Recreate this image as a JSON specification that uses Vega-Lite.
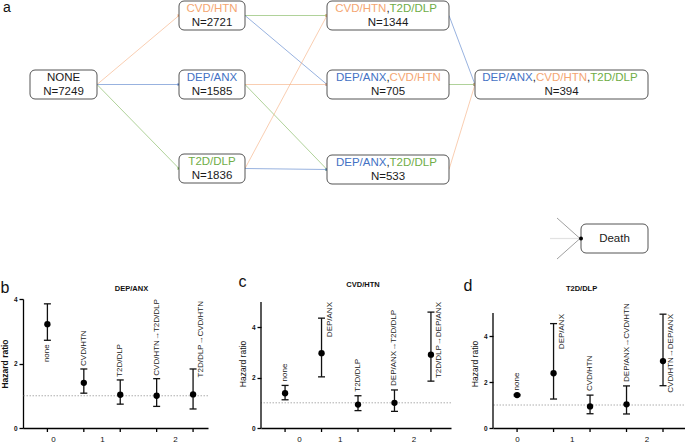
{
  "$schema": "https://vega.github.io/schema/vega-lite/v6.json",
  "padding": 0,
  "autosize": {"type": "pad"},
  "config": {"font": "Liberation Sans", "view": {"stroke": null}, "axisX": {"labelOverlap": false}},
  "datasets": {
    "nodes": [
      {"id": "NONE", "x0": 29, "x1": 96, "y0": 70, "y1": 99, "xc": 62.5, "yc": 84.5},
      {"id": "CVDHTN", "x0": 178, "x1": 244, "y0": 1, "y1": 30, "xc": 211, "yc": 15.5},
      {"id": "DEPANX", "x0": 178, "x1": 244, "y0": 70, "y1": 99, "xc": 211, "yc": 84.5},
      {"id": "T2DDLP", "x0": 178, "x1": 244, "y0": 154, "y1": 183, "xc": 211, "yc": 168.5},
      {"id": "CVD_T2D", "x0": 326, "x1": 448, "y0": 1, "y1": 30, "xc": 387, "yc": 15.5},
      {"id": "DEP_CVD", "x0": 326, "x1": 448, "y0": 70, "y1": 99, "xc": 387, "yc": 84.5},
      {"id": "DEP_T2D", "x0": 326, "x1": 448, "y0": 155, "y1": 184, "xc": 387, "yc": 169.5},
      {"id": "ALL", "x0": 474, "x1": 647, "y0": 70, "y1": 99, "xc": 560.5, "yc": 84.5},
      {"id": "DEATH", "x0": 580, "x1": 647, "y0": 224, "y1": 253, "xc": 613.5, "yc": 238.5}
    ],
    "texts": [
      {"node": "NONE", "part": "solo", "text": "NONE", "cat": "black"},
      {"node": "NONE", "part": "n", "text": "N=7249", "cat": "black"},
      {"node": "CVDHTN", "part": "solo", "text": "CVD/HTN", "cat": "CVD/HTN"},
      {"node": "CVDHTN", "part": "n", "text": "N=2721", "cat": "black"},
      {"node": "DEPANX", "part": "solo", "text": "DEP/ANX", "cat": "DEP/ANX"},
      {"node": "DEPANX", "part": "n", "text": "N=1585", "cat": "black"},
      {"node": "T2DDLP", "part": "solo", "text": "T2D/DLP", "cat": "T2D/DLP"},
      {"node": "T2DDLP", "part": "n", "text": "N=1836", "cat": "black"},
      {"node": "CVD_T2D", "part": "l2", "text": "CVD/HTN", "cat": "CVD/HTN"},
      {"node": "CVD_T2D", "part": "c2", "text": ",", "cat": "black"},
      {"node": "CVD_T2D", "part": "r2", "text": "T2D/DLP", "cat": "T2D/DLP"},
      {"node": "CVD_T2D", "part": "n", "text": "N=1344", "cat": "black"},
      {"node": "DEP_CVD", "part": "l2", "text": "DEP/ANX", "cat": "DEP/ANX"},
      {"node": "DEP_CVD", "part": "c2", "text": ",", "cat": "black"},
      {"node": "DEP_CVD", "part": "r2", "text": "CVD/HTN", "cat": "CVD/HTN"},
      {"node": "DEP_CVD", "part": "n", "text": "N=705", "cat": "black"},
      {"node": "DEP_T2D", "part": "l2", "text": "DEP/ANX", "cat": "DEP/ANX"},
      {"node": "DEP_T2D", "part": "c2", "text": ",", "cat": "black"},
      {"node": "DEP_T2D", "part": "r2", "text": "T2D/DLP", "cat": "T2D/DLP"},
      {"node": "DEP_T2D", "part": "n", "text": "N=533", "cat": "black"},
      {"node": "ALL", "part": "l3", "text": "DEP/ANX", "cat": "DEP/ANX"},
      {"node": "ALL", "part": "c3a", "text": ",", "cat": "black"},
      {"node": "ALL", "part": "m3", "text": "CVD/HTN", "cat": "CVD/HTN"},
      {"node": "ALL", "part": "c3b", "text": ",", "cat": "black"},
      {"node": "ALL", "part": "r3", "text": "T2D/DLP", "cat": "T2D/DLP"},
      {"node": "ALL", "part": "n", "text": "N=394", "cat": "black"},
      {"node": "DEATH", "part": "death", "text": "Death", "cat": "black"}
    ],
    "edges": [
      {"from": "NONE", "to": "CVDHTN", "cat": "CVD/HTN"},
      {"from": "NONE", "to": "DEPANX", "cat": "DEP/ANX"},
      {"from": "NONE", "to": "T2DDLP", "cat": "T2D/DLP"},
      {"from": "CVDHTN", "to": "CVD_T2D", "cat": "T2D/DLP"},
      {"from": "CVDHTN", "to": "DEP_CVD", "cat": "DEP/ANX"},
      {"from": "DEPANX", "to": "DEP_CVD", "cat": "CVD/HTN"},
      {"from": "DEPANX", "to": "DEP_T2D", "cat": "T2D/DLP"},
      {"from": "T2DDLP", "to": "CVD_T2D", "cat": "CVD/HTN"},
      {"from": "T2DDLP", "to": "DEP_T2D", "cat": "DEP/ANX"},
      {"from": "CVD_T2D", "to": "ALL", "cat": "DEP/ANX"},
      {"from": "DEP_CVD", "to": "ALL", "cat": "T2D/DLP"},
      {"from": "DEP_T2D", "to": "ALL", "cat": "CVD/HTN"}
    ],
    "stubs": [
      {"kind": "diag", "x": 556, "y": 218, "x2": 579, "y2": 238.5},
      {"kind": "diag", "x": 556, "y": 259, "x2": 579, "y2": 238.5},
      {"kind": "flat", "x": 549, "y": 238.5, "x2": 579, "y2": 238.5}
    ],
    "forest": [
      {"panel": "b", "pos": 1, "label": "none", "hr": 3.22, "lo": 2.72, "hi": 3.85},
      {"panel": "b", "pos": 2, "label": "CVD/HTN", "hr": 1.4, "lo": 1.08, "hi": 1.83},
      {"panel": "b", "pos": 3, "label": "T2D/DLP", "hr": 1.03, "lo": 0.74, "hi": 1.49},
      {"panel": "b", "pos": 4, "label": "CVD/HTN→T2D/DLP", "hr": 1.0, "lo": 0.67, "hi": 1.53},
      {"panel": "b", "pos": 5, "label": "T2D/DLP→CVD/HTN", "hr": 1.04, "lo": 0.59, "hi": 1.83},
      {"panel": "c", "pos": 1, "label": "none", "hr": 1.38, "lo": 1.12, "hi": 1.69},
      {"panel": "c", "pos": 2, "label": "DEP/ANX", "hr": 2.97, "lo": 2.03, "hi": 4.36},
      {"panel": "c", "pos": 3, "label": "T2D/DLP", "hr": 0.93, "lo": 0.69, "hi": 1.28},
      {"panel": "c", "pos": 4, "label": "DEP/ANX→T2D/DLP", "hr": 1.0, "lo": 0.66, "hi": 1.51},
      {"panel": "c", "pos": 5, "label": "T2D/DLP→DEP/ANX", "hr": 2.91, "lo": 1.86, "hi": 4.6},
      {"panel": "d", "pos": 1, "label": "none", "hr": 1.43, "lo": 1.4, "hi": 1.46},
      {"panel": "d", "pos": 2, "label": "DEP/ANX", "hr": 2.38, "lo": 1.26, "hi": 4.54},
      {"panel": "d", "pos": 3, "label": "CVD/HTN", "hr": 0.94, "lo": 0.62, "hi": 1.43},
      {"panel": "d", "pos": 4, "label": "DEP/ANX→CVD/HTN", "hr": 1.03, "lo": 0.61, "hi": 1.83},
      {"panel": "d", "pos": 5, "label": "CVD/HTN→DEP/ANX", "hr": 2.91, "lo": 1.84, "hi": 4.95}
    ]
  },
  "columns": 1,
  "align": "none",
  "spacing": 14,
  "concat": [
    {
      "width": 663,
      "height": 260,
      "title": {"text": "a", "anchor": "start", "frame": "group", "fontSize": 14, "fontWeight": "normal", "baseline": "top", "offset": -14.5, "dx": -20, "color": "#111"},
      "layer": [
        {
          "data": {"name": "edges"},
          "transform": [
            {"lookup": "from", "from": {"data": {"name": "nodes"}, "key": "id", "fields": ["x1", "yc"]}, "as": ["sx", "sy"]},
            {"lookup": "to", "from": {"data": {"name": "nodes"}, "key": "id", "fields": ["x0", "yc"]}, "as": ["tx", "ty"]}
          ],
          "mark": {"type": "rule", "strokeWidth": 1, "strokeOpacity": 0.55},
          "encoding": {
            "x": {"field": "sx", "type": "quantitative", "scale": {"domain": [22, 685], "nice": false, "zero": false}, "axis": null},
            "y": {"field": "sy", "type": "quantitative", "scale": {"domain": [0, 260], "nice": false, "zero": false, "reverse": true}, "axis": null},
            "x2": {"field": "tx"},
            "y2": {"field": "ty"},
            "color": {"field": "cat", "type": "nominal", "scale": {"domain": ["DEP/ANX", "CVD/HTN", "T2D/DLP", "black"], "range": ["#4472C4", "#F4A672", "#70AD47", "#1a1a1a"]}, "legend": null}
          }
        },
        {
          "data": {"name": "edges"},
          "transform": [
            {"lookup": "to", "from": {"data": {"name": "nodes"}, "key": "id", "fields": ["x0", "yc"]}, "as": ["tx", "ty"]}
          ],
          "mark": {"type": "point", "shape": "triangle-right", "filled": true, "size": 10, "opacity": 1},
          "encoding": {
            "x": {"field": "tx", "type": "quantitative", "scale": {"domain": [22, 685], "nice": false, "zero": false}, "axis": null},
            "y": {"field": "ty", "type": "quantitative", "scale": {"domain": [0, 260], "nice": false, "zero": false, "reverse": true}, "axis": null},
            "color": {"field": "cat", "type": "nominal", "legend": null}
          }
        },
        {
          "data": {"name": "stubs"},
          "transform": [{"filter": "datum.kind == 'diag'"}],
          "mark": {"type": "rule", "strokeWidth": 0.8, "color": "#888"},
          "encoding": {
            "x": {"field": "x", "type": "quantitative", "scale": {"domain": [22, 685], "nice": false, "zero": false}, "axis": null},
            "y": {"field": "y", "type": "quantitative", "scale": {"domain": [0, 260], "nice": false, "zero": false, "reverse": true}, "axis": null},
            "x2": {"field": "x2"},
            "y2": {"field": "y2"}
          }
        },
        {
          "data": {"name": "stubs"},
          "transform": [{"filter": "datum.kind == 'flat'"}],
          "mark": {"type": "rule", "strokeWidth": 1.2, "color": "#e2e2e2"},
          "encoding": {
            "x": {"field": "x", "type": "quantitative", "scale": {"domain": [22, 685], "nice": false, "zero": false}, "axis": null},
            "y": {"field": "y", "type": "quantitative", "scale": {"domain": [0, 260], "nice": false, "zero": false, "reverse": true}, "axis": null},
            "x2": {"field": "x2"},
            "y2": {"field": "y2"}
          }
        },
        {
          "data": {"name": "nodes"},
          "mark": {"type": "rect", "fill": "white", "stroke": "#555", "strokeWidth": 1, "cornerRadius": 5},
          "encoding": {
            "x": {"field": "x0", "type": "quantitative", "scale": {"domain": [22, 685], "nice": false, "zero": false}, "axis": null},
            "x2": {"field": "x1"},
            "y": {"field": "y0", "type": "quantitative", "scale": {"domain": [0, 260], "nice": false, "zero": false, "reverse": true}, "axis": null},
            "y2": {"field": "y1"}
          }
        },
        {
          "data": {"name": "nodes"},
          "transform": [{"filter": "datum.id == 'DEATH'"}],
          "mark": {"type": "point", "shape": "circle", "filled": true, "size": 16, "color": "#000", "opacity": 1},
          "encoding": {
            "x": {"field": "x0", "type": "quantitative", "scale": {"domain": [22, 685], "nice": false, "zero": false}, "axis": null},
            "y": {"field": "yc", "type": "quantitative", "scale": {"domain": [0, 260], "nice": false, "zero": false, "reverse": true}, "axis": null}
          }
        },
        {
          "data": {"name": "texts"},
          "transform": [
            {"lookup": "node", "from": {"data": {"name": "nodes"}, "key": "id", "fields": ["xc", "yc"]}},
            {"filter": "datum.part == 'solo'"}
          ],
          "mark": {"type": "text", "fontSize": 11.5, "align": "center", "baseline": "middle", "dy": -7},
          "encoding": {
            "x": {"field": "xc", "type": "quantitative", "scale": {"domain": [22, 685], "nice": false, "zero": false}, "axis": null},
            "y": {"field": "yc", "type": "quantitative", "scale": {"domain": [0, 260], "nice": false, "zero": false, "reverse": true}, "axis": null},
            "text": {"field": "text"},
            "color": {"field": "cat", "type": "nominal", "legend": null}
          }
        },
        {
          "data": {"name": "texts"},
          "transform": [
            {"lookup": "node", "from": {"data": {"name": "nodes"}, "key": "id", "fields": ["xc", "yc"]}},
            {"filter": "datum.part == 'n'"}
          ],
          "mark": {"type": "text", "fontSize": 11.5, "align": "center", "baseline": "middle", "dy": 7},
          "encoding": {
            "x": {"field": "xc", "type": "quantitative", "scale": {"domain": [22, 685], "nice": false, "zero": false}, "axis": null},
            "y": {"field": "yc", "type": "quantitative", "scale": {"domain": [0, 260], "nice": false, "zero": false, "reverse": true}, "axis": null},
            "text": {"field": "text"},
            "color": {"field": "cat", "type": "nominal", "legend": null}
          }
        },
        {
          "data": {"name": "texts"},
          "transform": [
            {"lookup": "node", "from": {"data": {"name": "nodes"}, "key": "id", "fields": ["xc", "yc"]}},
            {"filter": "datum.part == 'death'"}
          ],
          "mark": {"type": "text", "fontSize": 11.5, "align": "center", "baseline": "middle", "dy": 0},
          "encoding": {
            "x": {"field": "xc", "type": "quantitative", "scale": {"domain": [22, 685], "nice": false, "zero": false}, "axis": null},
            "y": {"field": "yc", "type": "quantitative", "scale": {"domain": [0, 260], "nice": false, "zero": false, "reverse": true}, "axis": null},
            "text": {"field": "text"},
            "color": {"field": "cat", "type": "nominal", "legend": null}
          }
        },
        {
          "data": {"name": "texts"},
          "transform": [
            {"lookup": "node", "from": {"data": {"name": "nodes"}, "key": "id", "fields": ["xc", "yc"]}},
            {"filter": "datum.part == 'l2'"}
          ],
          "mark": {"type": "text", "fontSize": 11.5, "align": "right", "baseline": "middle", "dy": -7, "dx": -1.6},
          "encoding": {
            "x": {"field": "xc", "type": "quantitative", "scale": {"domain": [22, 685], "nice": false, "zero": false}, "axis": null},
            "y": {"field": "yc", "type": "quantitative", "scale": {"domain": [0, 260], "nice": false, "zero": false, "reverse": true}, "axis": null},
            "text": {"field": "text"},
            "color": {"field": "cat", "type": "nominal", "legend": null}
          }
        },
        {
          "data": {"name": "texts"},
          "transform": [
            {"lookup": "node", "from": {"data": {"name": "nodes"}, "key": "id", "fields": ["xc", "yc"]}},
            {"filter": "datum.part == 'c2'"}
          ],
          "mark": {"type": "text", "fontSize": 11.5, "align": "center", "baseline": "middle", "dy": -7},
          "encoding": {
            "x": {"field": "xc", "type": "quantitative", "scale": {"domain": [22, 685], "nice": false, "zero": false}, "axis": null},
            "y": {"field": "yc", "type": "quantitative", "scale": {"domain": [0, 260], "nice": false, "zero": false, "reverse": true}, "axis": null},
            "text": {"field": "text"},
            "color": {"field": "cat", "type": "nominal", "legend": null}
          }
        },
        {
          "data": {"name": "texts"},
          "transform": [
            {"lookup": "node", "from": {"data": {"name": "nodes"}, "key": "id", "fields": ["xc", "yc"]}},
            {"filter": "datum.part == 'r2'"}
          ],
          "mark": {"type": "text", "fontSize": 11.5, "align": "left", "baseline": "middle", "dy": -7, "dx": 1.6},
          "encoding": {
            "x": {"field": "xc", "type": "quantitative", "scale": {"domain": [22, 685], "nice": false, "zero": false}, "axis": null},
            "y": {"field": "yc", "type": "quantitative", "scale": {"domain": [0, 260], "nice": false, "zero": false, "reverse": true}, "axis": null},
            "text": {"field": "text"},
            "color": {"field": "cat", "type": "nominal", "legend": null}
          }
        },
        {
          "data": {"name": "texts"},
          "transform": [
            {"lookup": "node", "from": {"data": {"name": "nodes"}, "key": "id", "fields": ["xc", "yc"]}},
            {"filter": "datum.part == 'l3'"}
          ],
          "mark": {"type": "text", "fontSize": 11.5, "align": "right", "baseline": "middle", "dy": -7, "dx": -28.8},
          "encoding": {
            "x": {"field": "xc", "type": "quantitative", "scale": {"domain": [22, 685], "nice": false, "zero": false}, "axis": null},
            "y": {"field": "yc", "type": "quantitative", "scale": {"domain": [0, 260], "nice": false, "zero": false, "reverse": true}, "axis": null},
            "text": {"field": "text"},
            "color": {"field": "cat", "type": "nominal", "legend": null}
          }
        },
        {
          "data": {"name": "texts"},
          "transform": [
            {"lookup": "node", "from": {"data": {"name": "nodes"}, "key": "id", "fields": ["xc", "yc"]}},
            {"filter": "datum.part == 'c3a'"}
          ],
          "mark": {"type": "text", "fontSize": 11.5, "align": "center", "baseline": "middle", "dy": -7, "dx": -27.2},
          "encoding": {
            "x": {"field": "xc", "type": "quantitative", "scale": {"domain": [22, 685], "nice": false, "zero": false}, "axis": null},
            "y": {"field": "yc", "type": "quantitative", "scale": {"domain": [0, 260], "nice": false, "zero": false, "reverse": true}, "axis": null},
            "text": {"field": "text"},
            "color": {"field": "cat", "type": "nominal", "legend": null}
          }
        },
        {
          "data": {"name": "texts"},
          "transform": [
            {"lookup": "node", "from": {"data": {"name": "nodes"}, "key": "id", "fields": ["xc", "yc"]}},
            {"filter": "datum.part == 'm3'"}
          ],
          "mark": {"type": "text", "fontSize": 11.5, "align": "center", "baseline": "middle", "dy": -7},
          "encoding": {
            "x": {"field": "xc", "type": "quantitative", "scale": {"domain": [22, 685], "nice": false, "zero": false}, "axis": null},
            "y": {"field": "yc", "type": "quantitative", "scale": {"domain": [0, 260], "nice": false, "zero": false, "reverse": true}, "axis": null},
            "text": {"field": "text"},
            "color": {"field": "cat", "type": "nominal", "legend": null}
          }
        },
        {
          "data": {"name": "texts"},
          "transform": [
            {"lookup": "node", "from": {"data": {"name": "nodes"}, "key": "id", "fields": ["xc", "yc"]}},
            {"filter": "datum.part == 'c3b'"}
          ],
          "mark": {"type": "text", "fontSize": 11.5, "align": "center", "baseline": "middle", "dy": -7, "dx": 27.2},
          "encoding": {
            "x": {"field": "xc", "type": "quantitative", "scale": {"domain": [22, 685], "nice": false, "zero": false}, "axis": null},
            "y": {"field": "yc", "type": "quantitative", "scale": {"domain": [0, 260], "nice": false, "zero": false, "reverse": true}, "axis": null},
            "text": {"field": "text"},
            "color": {"field": "cat", "type": "nominal", "legend": null}
          }
        },
        {
          "data": {"name": "texts"},
          "transform": [
            {"lookup": "node", "from": {"data": {"name": "nodes"}, "key": "id", "fields": ["xc", "yc"]}},
            {"filter": "datum.part == 'r3'"}
          ],
          "mark": {"type": "text", "fontSize": 11.5, "align": "left", "baseline": "middle", "dy": -7, "dx": 28.8},
          "encoding": {
            "x": {"field": "xc", "type": "quantitative", "scale": {"domain": [22, 685], "nice": false, "zero": false}, "axis": null},
            "y": {"field": "yc", "type": "quantitative", "scale": {"domain": [0, 260], "nice": false, "zero": false, "reverse": true}, "axis": null},
            "text": {"field": "text"},
            "color": {"field": "cat", "type": "nominal", "legend": null}
          }
        }
      ]
    },
    {
      "columns": 2,
      "align": "none",
      "spacing": 29,
      "concat": [
        {
          "title": {"text": "b", "anchor": "start", "frame": "bounds", "fontSize": 16, "fontWeight": "normal", "baseline": "top", "offset": -10.5, "color": "#111"},
          "vconcat": [
            {
              "width": 185,
              "height": 129,
              "title": {"text": "DEP/ANX", "anchor": "middle", "frame": "group", "fontSize": 7.5, "fontWeight": "bold", "baseline": "top", "offset": 3.5, "dx": 16, "color": "#111"},
              "data": {"name": "forest"},
              "transform": [{"filter": "datum.panel == 'b'"}],
              "layer": [
                {
                  "data": {"values": [{}]},
                  "mark": {"type": "rule", "color": "#999", "strokeDash": [1.5, 1.5], "strokeWidth": 0.8},
                  "encoding": {"y": {"datum": 1, "type": "quantitative", "scale": {"domain": [0, 4], "nice": false, "zero": false}}}
                },
                {
                  "mark": {"type": "rule", "strokeWidth": 1.3, "color": "#111"},
                  "encoding": {
                    "x": {"field": "pos", "type": "quantitative", "scale": {"domain": [0.33, 5.41], "nice": false, "zero": false},
                      "axis": {"values": [1.15, 2.5, 4.5], "labelExpr": "datum.value < 2 ? '0' : datum.value < 3 ? '1' : '2'", "title": null, "grid": false, "domainColor": "#000", "domainWidth": 1.3, "tickOpacity": 0, "tickSize": 4, "labelFontSize": 8, "labelPadding": 3.5, "labelFlush": false, "labelOverlap": false, "labelColor": "#111"}},
                    "y": {"field": "lo", "type": "quantitative", "scale": {"domain": [0, 4], "nice": false, "zero": false},
                      "axis": {"values": [0, 1, 2, 3, 4], "title": "Hazard ratio", "grid": false, "domainColor": "#000", "domainWidth": 1.3, "tickColor": "#000", "tickWidth": 1.3, "tickSize": 4, "labelFontSize": 6.5, "labelFontWeight": "bold", "labelPadding": 2, "labelColor": "#111", "titleFontSize": 8.5, "titleFontWeight": "bold", "titlePadding": 4, "titleColor": "#111"}},
                    "y2": {"field": "hi"}
                  }
                },
                {
                  "mark": {"type": "tick", "orient": "vertical", "size": 4, "thickness": 1.3, "color": "#000", "opacity": 1, "yOffset": 2},
                  "encoding": {"x": {"field": "pos", "type": "quantitative"}, "y": {"datum": 0, "type": "quantitative"}}
                },
                {
                  "mark": {"type": "tick", "orient": "horizontal", "size": 7, "thickness": 1.3, "color": "#111", "opacity": 1},
                  "encoding": {"x": {"field": "pos", "type": "quantitative"}, "y": {"field": "hi", "type": "quantitative"}}
                },
                {
                  "mark": {"type": "tick", "orient": "horizontal", "size": 7, "thickness": 1.3, "color": "#111", "opacity": 1},
                  "encoding": {"x": {"field": "pos", "type": "quantitative"}, "y": {"field": "lo", "type": "quantitative"}}
                },
                {
                  "mark": {"type": "circle", "size": 40, "color": "#000", "opacity": 1},
                  "encoding": {"x": {"field": "pos", "type": "quantitative"}, "y": {"field": "hr", "type": "quantitative"}}
                },
                {
                  "transform": [{"filter": "datum.pos >= 2 && datum.pos <= 4"}],
                  "mark": {"type": "text", "angle": 270, "align": "left", "baseline": "middle", "dx": 3, "fontSize": 8, "color": "#222"},
                  "encoding": {"x": {"field": "pos", "type": "quantitative"}, "y": {"field": "hi", "type": "quantitative"}, "text": {"field": "label"}}
                },
                {
                  "transform": [{"filter": "datum.pos == 1"}],
                  "mark": {"type": "text", "angle": 270, "align": "right", "baseline": "middle", "dx": -4, "fontSize": 8, "color": "#222"},
                  "encoding": {"x": {"field": "pos", "type": "quantitative"}, "y": {"field": "lo", "type": "quantitative"}, "text": {"field": "label"}}
                },
                {
                  "transform": [{"filter": "datum.pos == 5"}],
                  "mark": {"type": "text", "angle": 270, "align": "right", "baseline": "top", "dx": -2, "dy": 4, "fontSize": 8, "color": "#222"},
                  "encoding": {"x": {"field": "pos", "type": "quantitative"}, "y": {"datum": 4, "type": "quantitative"}, "text": {"field": "label"}}
                }
              ]
            }
          ]
        },
        {
          "columns": 2,
          "align": "none",
          "spacing": 11,
          "concat": [
            {
              "title": {"text": "c", "anchor": "start", "frame": "bounds", "fontSize": 16, "fontWeight": "normal", "baseline": "top", "offset": -9, "color": "#111"},
              "vconcat": [
                {
                  "width": 190,
                  "height": 129,
                  "title": {"text": "CVD/HTN", "anchor": "middle", "frame": "group", "fontSize": 7.5, "fontWeight": "bold", "baseline": "top", "offset": 10.5, "dx": 7, "color": "#111"},
                  "data": {"name": "forest"},
                  "transform": [{"filter": "datum.panel == 'c'"}],
                  "layer": [
                    {
                      "data": {"values": [{}]},
                      "mark": {"type": "rule", "color": "#999", "strokeDash": [1.5, 1.5], "strokeWidth": 0.8},
                      "encoding": {"y": {"datum": 1, "type": "quantitative", "scale": {"domain": [0, 5.12], "nice": false, "zero": false}}}
                    },
                    {
                      "data": {"values": [{}]},
                      "mark": {"type": "rule", "color": "#000", "strokeWidth": 1.3},
                      "encoding": {"x": {"datum": 0.34, "type": "quantitative"}, "y": {"datum": 0, "type": "quantitative"}, "y2": {"datum": 5}}
                    },
                    {
                      "mark": {"type": "rule", "strokeWidth": 1.3, "color": "#111"},
                      "encoding": {
                        "x": {"field": "pos", "type": "quantitative", "scale": {"domain": [0.34, 5.55], "nice": false, "zero": false},
                          "axis": {"values": [1.38, 2.5, 4.52], "labelExpr": "datum.value < 2 ? '0' : datum.value < 3 ? '1' : '2'", "title": null, "grid": false, "domainColor": "#000", "domainWidth": 1.3, "tickOpacity": 0, "tickSize": 4, "labelFontSize": 8, "labelPadding": 3.5, "labelFlush": false, "labelOverlap": false, "labelColor": "#111"}},
                        "y": {"field": "lo", "type": "quantitative", "scale": {"domain": [0, 5.12], "nice": false, "zero": false},
                          "axis": {"values": [0, 1, 2, 3, 4, 5], "title": "Hazard ratio", "grid": false, "domain": false, "tickColor": "#000", "tickWidth": 1.3, "tickSize": 4, "labelFontSize": 6.5, "labelFontWeight": "bold", "labelPadding": 2, "labelColor": "#111", "titleFontSize": 8.5, "titleFontWeight": "normal", "titlePadding": 4, "titleColor": "#111"}},
                        "y2": {"field": "hi"}
                      }
                    },
                    {
                      "mark": {"type": "tick", "orient": "vertical", "size": 4, "thickness": 1.3, "color": "#000", "opacity": 1, "yOffset": 2},
                      "encoding": {"x": {"field": "pos", "type": "quantitative"}, "y": {"datum": 0, "type": "quantitative"}}
                    },
                    {
                      "mark": {"type": "tick", "orient": "horizontal", "size": 7, "thickness": 1.3, "color": "#111", "opacity": 1},
                      "encoding": {"x": {"field": "pos", "type": "quantitative"}, "y": {"field": "hi", "type": "quantitative"}}
                    },
                    {
                      "mark": {"type": "tick", "orient": "horizontal", "size": 7, "thickness": 1.3, "color": "#111", "opacity": 1},
                      "encoding": {"x": {"field": "pos", "type": "quantitative"}, "y": {"field": "lo", "type": "quantitative"}}
                    },
                    {
                      "mark": {"type": "circle", "size": 40, "color": "#000", "opacity": 1},
                      "encoding": {"x": {"field": "pos", "type": "quantitative"}, "y": {"field": "hr", "type": "quantitative"}}
                    },
                    {
                      "transform": [{"filter": "datum.pos == 1 || datum.pos == 3 || datum.pos == 4"}],
                      "mark": {"type": "text", "angle": 270, "align": "left", "baseline": "middle", "dx": 4, "fontSize": 8, "color": "#222"},
                      "encoding": {"x": {"field": "pos", "type": "quantitative"}, "y": {"field": "hi", "type": "quantitative"}, "text": {"field": "label"}}
                    },
                    {
                      "transform": [{"filter": "datum.pos == 2 || datum.pos == 5"}],
                      "mark": {"type": "text", "angle": 270, "align": "right", "baseline": "top", "dx": 0, "dy": 4, "fontSize": 8, "color": "#222"},
                      "encoding": {"x": {"field": "pos", "type": "quantitative"}, "y": {"datum": 5, "type": "quantitative"}, "text": {"field": "label"}}
                    }
                  ]
                }
              ]
            },
            {
              "title": {"text": "d", "anchor": "start", "frame": "bounds", "fontSize": 16, "fontWeight": "normal", "baseline": "top", "offset": -9, "dx": -7, "color": "#111"},
              "vconcat": [
                {
                  "width": 197,
                  "height": 129,
                  "title": {"text": "T2D/DLP", "anchor": "middle", "frame": "group", "fontSize": 7.5, "fontWeight": "bold", "baseline": "top", "offset": 6.5, "dx": -10, "color": "#111"},
                  "data": {"name": "forest"},
                  "transform": [{"filter": "datum.panel == 'd'"}],
                  "layer": [
                    {
                      "data": {"values": [{}]},
                      "mark": {"type": "rule", "color": "#999", "strokeDash": [1.5, 1.5], "strokeWidth": 0.8},
                      "encoding": {"y": {"datum": 1, "type": "quantitative", "scale": {"domain": [0, 5.61], "nice": false, "zero": false}}}
                    },
                    {
                      "data": {"values": [{}]},
                      "mark": {"type": "rule", "color": "#000", "strokeWidth": 1.3},
                      "encoding": {"x": {"datum": 0.34, "type": "quantitative"}, "y": {"datum": 0, "type": "quantitative"}, "y2": {"datum": 5}}
                    },
                    {
                      "mark": {"type": "rule", "strokeWidth": 1.3, "color": "#111"},
                      "encoding": {
                        "x": {"field": "pos", "type": "quantitative", "scale": {"domain": [0.34, 5.74], "nice": false, "zero": false},
                          "axis": {"values": [1, 2.5, 4.55], "labelExpr": "datum.value < 2 ? '0' : datum.value < 3 ? '1' : '2'", "title": null, "grid": false, "domainColor": "#000", "domainWidth": 1.3, "tickOpacity": 0, "tickSize": 4, "labelFontSize": 8, "labelPadding": 3.5, "labelFlush": false, "labelOverlap": false, "labelColor": "#111"}},
                        "y": {"field": "lo", "type": "quantitative", "scale": {"domain": [0, 5.61], "nice": false, "zero": false},
                          "axis": {"values": [0, 1, 2, 3, 4, 5], "title": "Hazard ratio", "grid": false, "domain": false, "tickColor": "#000", "tickWidth": 1.3, "tickSize": 4, "labelFontSize": 6.5, "labelFontWeight": "bold", "labelPadding": 2, "labelColor": "#111", "titleFontSize": 8.5, "titleFontWeight": "normal", "titlePadding": 4, "titleColor": "#111"}},
                        "y2": {"field": "hi"}
                      }
                    },
                    {
                      "mark": {"type": "tick", "orient": "vertical", "size": 4, "thickness": 1.3, "color": "#000", "opacity": 1, "yOffset": 2},
                      "encoding": {"x": {"field": "pos", "type": "quantitative"}, "y": {"datum": 0, "type": "quantitative"}}
                    },
                    {
                      "mark": {"type": "tick", "orient": "horizontal", "size": 7, "thickness": 1.3, "color": "#111", "opacity": 1},
                      "encoding": {"x": {"field": "pos", "type": "quantitative"}, "y": {"field": "hi", "type": "quantitative"}}
                    },
                    {
                      "mark": {"type": "tick", "orient": "horizontal", "size": 7, "thickness": 1.3, "color": "#111", "opacity": 1},
                      "encoding": {"x": {"field": "pos", "type": "quantitative"}, "y": {"field": "lo", "type": "quantitative"}}
                    },
                    {
                      "mark": {"type": "circle", "size": 40, "color": "#000", "opacity": 1},
                      "encoding": {"x": {"field": "pos", "type": "quantitative"}, "y": {"field": "hr", "type": "quantitative"}}
                    },
                    {
                      "transform": [{"filter": "datum.pos == 1 || datum.pos == 3 || datum.pos == 4"}],
                      "mark": {"type": "text", "angle": 270, "align": "left", "baseline": "middle", "dx": 4, "fontSize": 8, "color": "#222"},
                      "encoding": {"x": {"field": "pos", "type": "quantitative"}, "y": {"field": "hi", "type": "quantitative"}, "text": {"field": "label"}}
                    },
                    {
                      "transform": [{"filter": "datum.pos == 2 || datum.pos == 5"}],
                      "mark": {"type": "text", "angle": 270, "align": "right", "baseline": "top", "dx": -1, "dy": 4, "fontSize": 8, "color": "#222"},
                      "encoding": {"x": {"field": "pos", "type": "quantitative"}, "y": {"datum": 5, "type": "quantitative"}, "text": {"field": "label"}}
                    }
                  ]
                }
              ]
            }
          ]
        }
      ]
    }
  ]
}
